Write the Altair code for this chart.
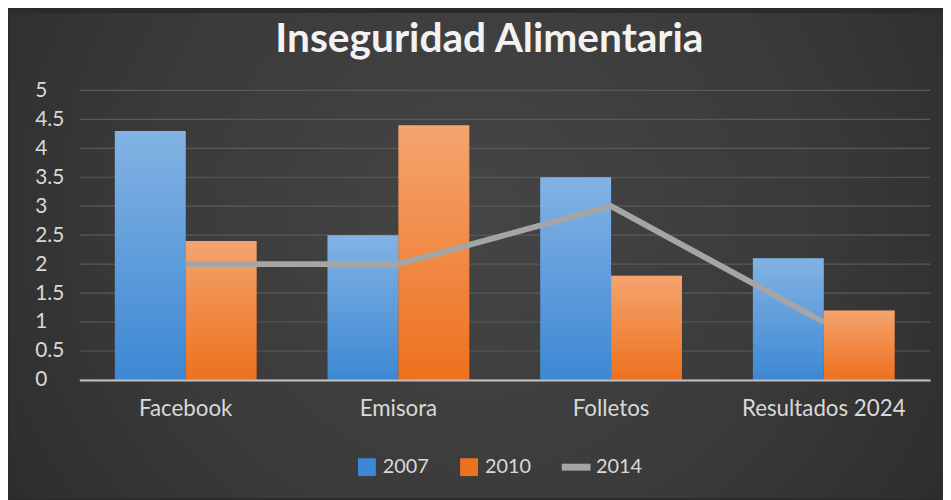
import altair as alt
import pandas as pd

categories = ["Facebook", "Emisora", "Folletos", "Resultados 2024"]
bar_series = ["2007", "2010"]
line_series = ["2014"]
values_2007 = [4.3, 2.5, 3.5, 2.1]
values_2010 = [2.4, 4.4, 1.8, 1.2]
values_2014 = [2, 2, 3, 1]
y_ticks = [0, 0.5, 1, 1.5, 2, 2.5, 3, 3.5, 4, 4.5, 5]
bar_colors = ["#3d88d4", "#ee711e"]
line_colors = ["#a5a5a5"]

bars_df = pd.DataFrame({
    "cat": categories * 2,
    "serie": ["2007"] * len(categories) + ["2010"] * len(categories),
    "valor": values_2007 + values_2010,
})
line_df = pd.DataFrame({"cat": categories, "serie": ["2014"] * len(categories), "valor": values_2014})
grid_df = pd.DataFrame({"tick": y_ticks})

W, H = 858, 292
PAD = {"left": 72, "top": 81, "right": 13, "bottom": 119}
FONT = "Lato"
TXT = "#d9d9d9"

x_scale = alt.Scale(paddingInner=1 / 3, paddingOuter=1 / 6)
y_scale = alt.Scale(domain=[0, 5], nice=False)

x_enc = alt.X("cat:N", sort=categories, scale=x_scale,
              axis=alt.Axis(title=None, labelAngle=0, ticks=False, tickSize=0,
                            labelPadding=18, labelFont=FONT, labelFontSize=22.5,
                            labelColor=TXT, domainColor="#bfbfbf", domainWidth=2,
                            grid=False, zindex=1))
y_axis = alt.Axis(title=None, values=y_ticks, format=".1~f", ticks=False, tickSize=0,
                  labelAlign="left", labelPadding=45, labelFont=FONT, labelFontSize=21,
                  labelColor=TXT, domain=False, grid=False, zindex=1)

bg_grad = alt.RadialGradient(
    gradient="radial", x1=0.5, y1=0.45, r1=0, x2=0.5, y2=0.45, r2=0.72,
    stops=[alt.GradientStop(color="#454545", offset=0),
           alt.GradientStop(color="#3a3a3a", offset=0.5),
           alt.GradientStop(color="#262626", offset=1)])

bg = alt.Chart(pd.DataFrame({"a": [0]})).mark_rect(fill=bg_grad, clip=False).encode(
    x=alt.value(-PAD["left"] + 1), x2=alt.value(W + PAD["right"]),
    y=alt.value(-PAD["top"] + 3), y2=alt.value(H + PAD["bottom"]))

grid = alt.Chart(grid_df).mark_rule(color="#5a5a5a", strokeWidth=1.2).encode(
    y=alt.Y("tick:Q", scale=y_scale, axis=y_axis),
    x=alt.value(0), x2=alt.value(W))

bars = alt.Chart(bars_df).mark_bar().encode(
    x=x_enc,
    xOffset=alt.XOffset("serie:N", sort=bar_series, scale=alt.Scale(paddingInner=0, paddingOuter=0)),
    y=alt.Y("valor:Q", scale=y_scale, axis=y_axis),
    color=alt.Color("serie:N", scale=alt.Scale(domain=bar_series, range=bar_colors),
                    legend=alt.Legend(
                        title=None, orient="none", direction="horizontal", legendX=280, legendY=370,
                        labelFont=FONT, labelFontSize=20, labelColor=TXT, labelOffset=6,
                        columnPadding=30, symbolType="square", symbolSize=324,
                        symbolStrokeWidth=0)),
)

shine = alt.LinearGradient(
    gradient="linear", x1=0, y1=0, x2=0, y2=1,
    stops=[alt.GradientStop(color="rgba(255,255,255,0.36)", offset=0),
           alt.GradientStop(color="rgba(255,255,255,0.0)", offset=1)])

overlay = alt.Chart(bars_df).mark_bar(fill=shine).encode(
    x=x_enc,
    xOffset=alt.XOffset("serie:N", sort=bar_series, scale=alt.Scale(paddingInner=0, paddingOuter=0)),
    y=alt.Y("valor:Q", scale=y_scale, axis=y_axis),
)

line = alt.Chart(line_df).mark_line(strokeWidth=6).encode(
    x=x_enc,
    y=alt.Y("valor:Q", scale=y_scale, axis=y_axis),
    stroke=alt.Stroke("serie:N", scale=alt.Scale(domain=line_series, range=line_colors),
                      legend=alt.Legend(
                          title=None, orient="none", direction="horizontal", legendX=483, legendY=362,
                          labelFont=FONT, labelFontSize=20, labelColor=TXT, labelOffset=2,
                          symbolType="stroke", symbolSize=841, symbolStrokeWidth=7)),
)

chart = alt.layer(bg, grid, bars, overlay, line).properties(
    width=W, height=H, padding=PAD,
    autosize=alt.AutoSizeParams(type="none"),
    background="#2b2b2b",
    title=alt.TitleParams("Inseguridad Alimentaria", font=FONT, fontSize=41, fontWeight="bold",
                          color="#f2f2f2", anchor="middle", dx=-15.5, offset=-48),
).configure_view(stroke=None)

chart.save("out.html", embed_options={"renderer": "svg", "actions": False})
